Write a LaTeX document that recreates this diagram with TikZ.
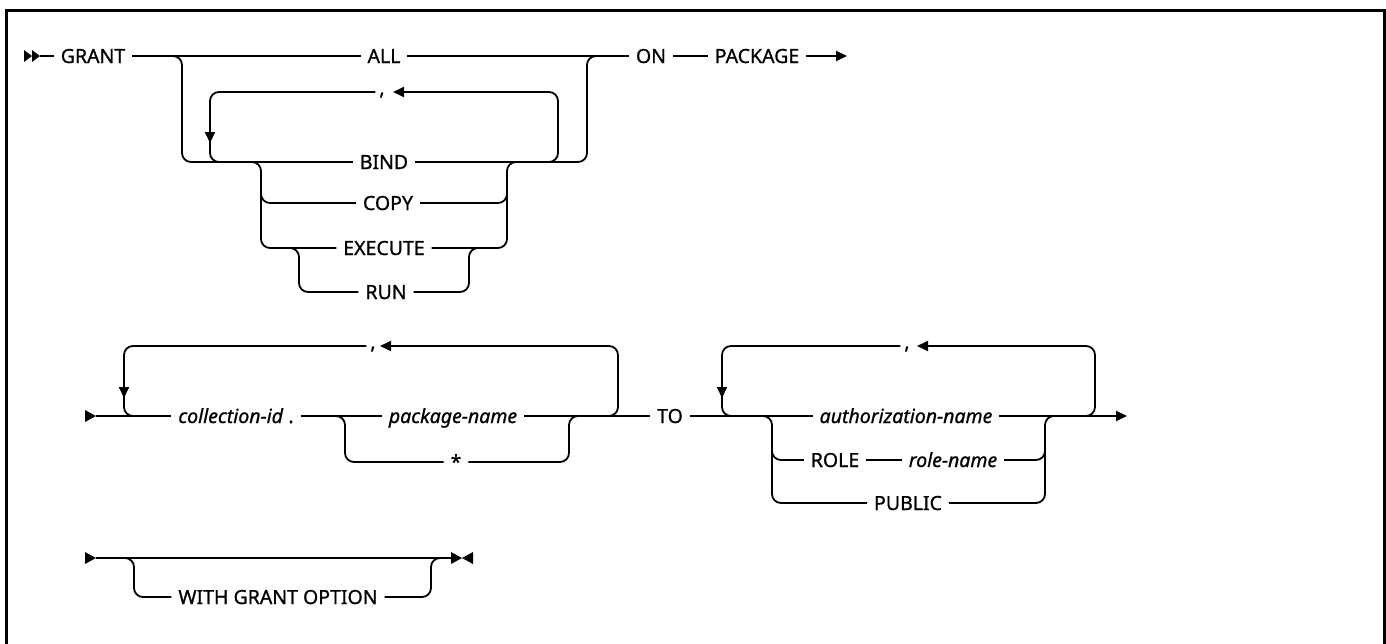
\documentclass[tikz,border=0pt]{standalone}
\usepackage{fontspec}
\setmainfont{Noto Sans}[UprightFeatures={FakeBold=0.9},ItalicFeatures={FakeBold=0.9}]
\usetikzlibrary{arrows.meta}
\begin{document}
\begin{tikzpicture}[x=1pt,y=-1pt,
  rail/.style={line width=1.8pt, rounded corners=9pt},
  txt/.style={font=\fontsize{19.5}{23}\selectfont, inner xsep=7pt, inner ysep=0pt, text height=14pt, text depth=0pt, outer sep=0pt},
  itx/.style={txt, font=\fontsize{19.5}{23}\selectfont\itshape},
  commanode/.style={txt, inner xsep=4pt},
  arrowtip/.style={-{Triangle[length=11pt,width=10pt]}},
  trifill/.style={fill=black},
]
\useasboundingbox (0,0) rectangle (1386,643);
\begin{scope}
\clip (0,0) rectangle (1386,643);
\draw[line width=3pt] (6,660) -- (6,10) -- (1384,10) -- (1384,660);
\end{scope}

% ---------- Row 1 ----------
\coordinate (s1) at (40,56);
\fill[trifill] (24,50) -- (32,56) -- (24,62) -- cycle;
\fill[trifill] (32,50) -- (40,56) -- (32,62) -- cycle;
\node[txt] (grant) at (93,56) {GRANT};
\node[txt] (all) at (384,56) {ALL};
\node[txt] (on) at (651,56) {ON};
\node[txt] (package) at (757,56) {PACKAGE};
\node[txt] (bind) at (384,162) {BIND};
\node[txt] (copy) at (388,203) {COPY};
\node[txt] (execute) at (384,248) {EXECUTE};
\node[txt] (run) at (386,292) {RUN};
\node[commanode] (comma1) at (382,88) {,};
\coordinate (e1) at (847,56);
\coordinate (c1tip) at (393,92);

\draw[rail] (s1) -- (grant.west);
\draw[rail] (grant.east) -- (all.west);
\draw[rail] (all.east) -- (on.west);
\draw[rail] (on.east) -- (package.west);
\draw[rail,arrowtip] (package.east) -- (e1);

\draw[rail] (168,56) -- (182,56) -- (182,162) -- (bind.west);
\draw[rail] (bind.east) -- (587,162) -- (587,56) -- (601,56);
\draw[rail,arrowtip] (540,162) -- (558,162) -- (558,92) -- (c1tip);
\draw[rail,arrowtip] (comma1.west |- 0,92) -- (210,92) -- (210,143);
\draw[rail] (210,140) -- (210,162) -- (230,162);

\draw[rail] (250,162) -- (261,162) -- (261,248) -- (execute.west);
\draw[rail] (261,190) -- (261,203) -- (copy.west);
\draw[rail] (copy.east) -- (507,203) -- (507,190);
\draw[rail] (execute.east) -- (507,248) -- (507,162) -- (520,162);
\draw[rail] (288,248) -- (299,248) -- (299,292) -- (run.west);
\draw[rail] (run.east) -- (469,292) -- (469,248) -- (480,248);

% ---------- Row 2 ----------
\coordinate (s2) at (96,416);
\fill[trifill] (85,410) -- (96,416) -- (85,422) -- cycle;
\node[txt] (coll) at (236,416) {\textit{collection-id} .};
\node[itx] (pkg) at (453,416) {package-name};
\node[txt] (star) at (456,462) {*};
\node[commanode] (comma2) at (373,342) {,};
\node[txt] (to) at (670,416) {TO};
\node[itx] (auth) at (906,416) {authorization-name};
\node[txt] (role) at (835,460) {ROLE};
\node[itx] (rolename) at (953,460) {role-name};
\node[txt] (public) at (908,503) {PUBLIC};
\node[commanode] (comma3) at (907,342) {,};
\coordinate (c2tip) at (380,346);
\coordinate (c3tip) at (917,346);
\coordinate (e2) at (1127,416);

\draw[rail] (s2) -- (coll.west);
\draw[rail] (coll.east) -- (pkg.west);
\draw[rail] (334,416) -- (345,416) -- (345,462) -- (star.west);
\draw[rail] (star.east) -- (569,462) -- (569,416) -- (580,416);
\draw[rail] (pkg.east) -- (to.west);
\draw[rail,arrowtip] (600,416) -- (618,416) -- (618,346) -- (c2tip);
\draw[rail,arrowtip] (comma2.west |- 0,346) -- (124,346) -- (124,398);
\draw[rail] (124,394) -- (124,416) -- (143,416);

\draw[rail] (to.east) -- (auth.west);
\draw[rail] (762,416) -- (772,416) -- (772,503) -- (public.west);
\draw[rail] (772,448) -- (772,460) -- (role.west);
\draw[rail] (role.east) -- (rolename.west);
\draw[rail] (rolename.east) -- (1045,460) -- (1045,448);
\draw[rail] (public.east) -- (1045,503) -- (1045,416) -- (1056,416);
\draw[rail,arrowtip] (auth.east) -- (e2);
\draw[rail,arrowtip] (1078,416) -- (1095,416) -- (1095,346) -- (c3tip);
\draw[rail,arrowtip] (comma3.west |- 0,346) -- (722,346) -- (722,398);
\draw[rail] (722,394) -- (722,416) -- (740,416);

% ---------- Row 3 ----------
\coordinate (s3) at (96,558);
\coordinate (e3) at (451,558);
\fill[trifill] (85,552) -- (96,558) -- (85,564) -- cycle;
\node[txt] (wgo) at (278,597) {WITH GRANT OPTION};
\draw[rail] (s3) -- (e3);
\draw[rail] (124,558) -- (134,558) -- (134,597) -- (wgo.west);
\draw[rail] (wgo.east) -- (431,597) -- (431,558) -- (442,558);
\fill[trifill] (451,552) -- (462,558) -- (451,564) -- cycle;
\fill[trifill] (473,552) -- (462,558) -- (473,564) -- cycle;
\end{tikzpicture}
\end{document}
